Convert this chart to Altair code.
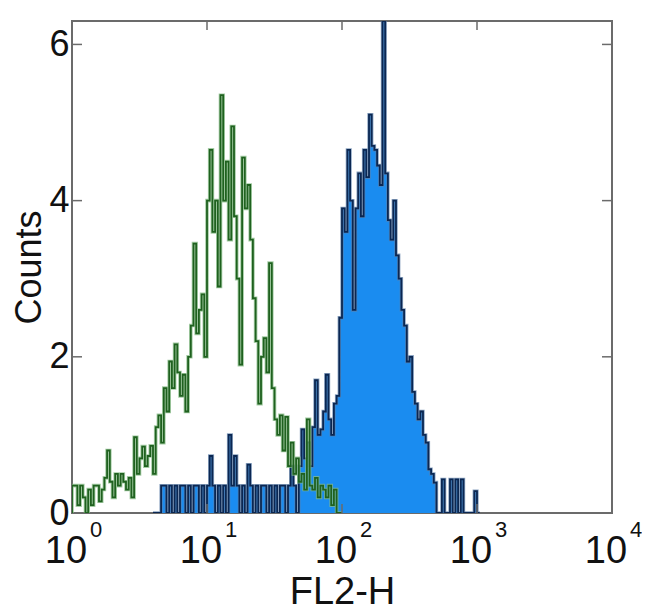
import altair as alt
import pandas as pd

# histogram bins are 1/50 decade wide on the log FL2-H axis
BIN_DECADES = 0.02

# control (green outline), bins starting at 10^0
green_start_bin = 0
green_counts = [
    0.35, 0.35, 0.1, 0.35, 0.2, 0.0, 0.3, 0.1, 0.35, 0.35,
    0.15, 0.3, 0.45, 0.8, 0.4, 0.2, 0.5, 0.35, 0.5, 0.4,
    0.3, 0.45, 0.2, 0.97, 0.5, 0.7, 0.85, 0.6, 0.73, 0.86,
    0.5, 1.1, 1.25, 0.9, 1.6, 1.3, 1.94, 1.6, 2.16, 1.8,
    1.5, 1.77, 1.3, 2.0, 2.4, 3.45, 2.3, 2.6, 2.8, 2.0,
    4.0, 4.65, 3.6, 4.0, 2.9, 5.35, 4.0, 4.5, 3.5, 4.95,
    3.8, 3.0, 1.9, 4.55, 3.9, 4.2, 3.5, 2.75, 2.2, 1.4,
    2.0, 2.24, 1.8, 3.2, 1.6, 1.2, 1.0, 1.25, 0.8, 1.23,
    0.6, 0.9, 0.5, 0.7, 0.4, 0.5, 0.3, 1.2, 0.35, 0.3,
    0.45, 0.2, 0.35, 0.3, 0.2, 0.35, 0.1, 0.3, 0.0, 0.0,
]

# stained sample (blue filled), bins starting at 10^0.6
blue_start_bin = 30
blue_counts = [
    0.0, 0.0, 0.0, 0.35, 0.35, 0.0, 0.35, 0.0, 0.35, 0.0,
    0.35, 0.35, 0.0, 0.35, 0.0, 0.35, 0.35, 0.0, 0.35, 0.0,
    0.35, 0.73, 0.35, 0.0, 0.35, 0.0, 0.35, 0.0, 1.0, 0.35,
    0.73, 0.35, 0.0, 0.35, 0.0, 0.62, 0.35, 0.0, 0.35, 0.0,
    0.35, 0.35, 0.0, 0.35, 0.0, 0.35, 0.0, 0.35, 0.35, 0.0,
    0.35, 0.6, 0.35, 0.0, 0.6, 1.07, 0.7, 0.9, 0.6, 1.1,
    1.7, 1.0, 1.07, 1.3, 1.77, 1.2, 1.0, 1.4, 1.5, 2.5,
    3.9, 3.6, 4.65, 4.0, 2.6, 3.9, 4.35, 3.8, 4.65, 4.3,
    5.1, 4.7, 4.65, 4.45, 4.2, 6.3, 4.35, 3.75, 3.5, 4.0,
    3.3, 3.0, 2.6, 2.4, 1.94, 2.0, 1.55, 1.4, 1.2, 1.3,
    1.0, 0.9, 0.56, 0.5, 0.39, 0.0, 0.0, 0.43, 0.0, 0.0,
    0.43, 0.0, 0.43, 0.0, 0.43, 0.0, 0.0, 0.0, 0.0, 0.28,
    0.0,
]

x_tick_exponents = [0, 1, 2, 3, 4]
y_tick_values = [0, 2, 4, 6]
inner_x_ticks = [10, 100, 1000]
inner_y_ticks = [2, 4, 6]

W, H = 540, 492
FONT = "Liberation Sans"
BORDER = "#6b6b6b"
INK = "#111111"


def step_frame(counts, start_bin, lead_zero):
    rows = []
    k = 0
    if lead_zero:
        rows.append({"x": 10 ** (start_bin * BIN_DECADES), "y": 0.0, "o": k})
        k += 1
    for j, c in enumerate(counts):
        rows.append({"x": 10 ** ((start_bin + j) * BIN_DECADES), "y": c, "o": k})
        k += 1
    rows.append({"x": 10 ** ((start_bin + len(counts)) * BIN_DECADES), "y": 0.0, "o": k})
    return pd.DataFrame(rows)


green_df = step_frame(green_counts, green_start_bin, True)
blue_area_df = step_frame(blue_counts, blue_start_bin, False)
blue_line_df = step_frame(blue_counts, blue_start_bin, True)

xscale = alt.Scale(type="log", domain=[1, 10000], nice=False)
yscale = alt.Scale(domain=[0, 6.3], nice=False)

x_axis = alt.Axis(
    values=[10 ** k for k in x_tick_exponents],
    labels=False,
    ticks=False,
    domain=False,
    grid=False,
    titleFont=FONT,
    titleFontSize=38,
    titleFontWeight="normal",
    titleColor=INK,
    titleY=60,
)
y_axis = alt.Axis(
    values=y_tick_values,
    labelFontSize=36,
    labelFont=FONT,
    labelColor=INK,
    labelPadding=3,
    tickSize=0,
    ticks=False,
    domain=False,
    grid=False,
    titleFont=FONT,
    titleFontSize=36,
    titleFontWeight="normal",
    titleColor=INK,
    titlePadding=0,
)

X = alt.X("x:Q", scale=xscale, axis=x_axis, title="FL2-H")
Y = alt.Y("y:Q", scale=yscale, axis=y_axis, title="Counts")

blue_area = alt.Chart(blue_area_df).mark_area(
    interpolate="step-after", color="#1a8cf0", clip=True
).encode(x=X, y=alt.Y("y:Q", scale=yscale, axis=y_axis, title="Counts", stack=None))

blue_halo = alt.Chart(blue_line_df).mark_line(
    interpolate="step-after", color="#5d7fa8", strokeWidth=3.4, opacity=0.7, clip=True
).encode(x=X, y=Y, order="o:Q")

blue_line = alt.Chart(blue_line_df).mark_line(
    interpolate="step-after", color="#0b2752", strokeWidth=1.8, clip=True
).encode(x=X, y=Y, order="o:Q")

green_halo = alt.Chart(green_df).mark_line(
    interpolate="step-after", color="#86bb86", strokeWidth=3.6, opacity=0.75, clip=True
).encode(x=X, y=Y, order="o:Q")

green_line = alt.Chart(green_df).mark_line(
    interpolate="step-after", color="#1f611f", strokeWidth=1.8, clip=True
).encode(x=X, y=Y, order="o:Q")

xt_df = pd.DataFrame({"x": inner_x_ticks})
yt_df = pd.DataFrame({"y": inner_y_ticks})

tick_style = dict(color=BORDER, strokeWidth=1.5)
bottom_ticks = alt.Chart(xt_df).mark_rule(**tick_style).encode(
    x=X, y=alt.value(H), y2=alt.value(H - 9)
)
top_ticks = alt.Chart(xt_df).mark_rule(**tick_style).encode(
    x=X, y=alt.value(0), y2=alt.value(9)
)
left_ticks = alt.Chart(yt_df).mark_rule(**tick_style).encode(
    y=Y, x=alt.value(0), x2=alt.value(10)
)
right_ticks = alt.Chart(yt_df).mark_rule(**tick_style).encode(
    y=Y, x=alt.value(W), x2=alt.value(W - 10)
)

lab_df = pd.DataFrame(
    {
        "x": [10 ** k for k in x_tick_exponents],
        "base": ["10" for _ in x_tick_exponents],
        "s": [str(k) for k in x_tick_exponents],
    }
)
base_labels = alt.Chart(lab_df).mark_text(
    font=FONT, fontSize=38, dx=-6, baseline="middle", align="center", color=INK
).encode(x=X, y=alt.value(H + 39), text="base:N")
superscripts = alt.Chart(lab_df).mark_text(
    font=FONT, fontSize=22, dx=24, baseline="middle", align="center", color=INK
).encode(x=X, y=alt.value(H + 17), text="s:N")

chart = alt.layer(
    blue_area, blue_halo, blue_line, green_halo, green_line,
    bottom_ticks, top_ticks, left_ticks, right_ticks,
    base_labels, superscripts,
).properties(
    width=W,
    height=H,
    autosize=alt.AutoSizeParams(type="none"),
    padding={"left": 64, "top": 13, "right": 30, "bottom": 100},
    background="white",
).configure_view(stroke=BORDER, strokeWidth=2)

chart.save("out.html", embed_options={"renderer": "svg", "actions": False})
